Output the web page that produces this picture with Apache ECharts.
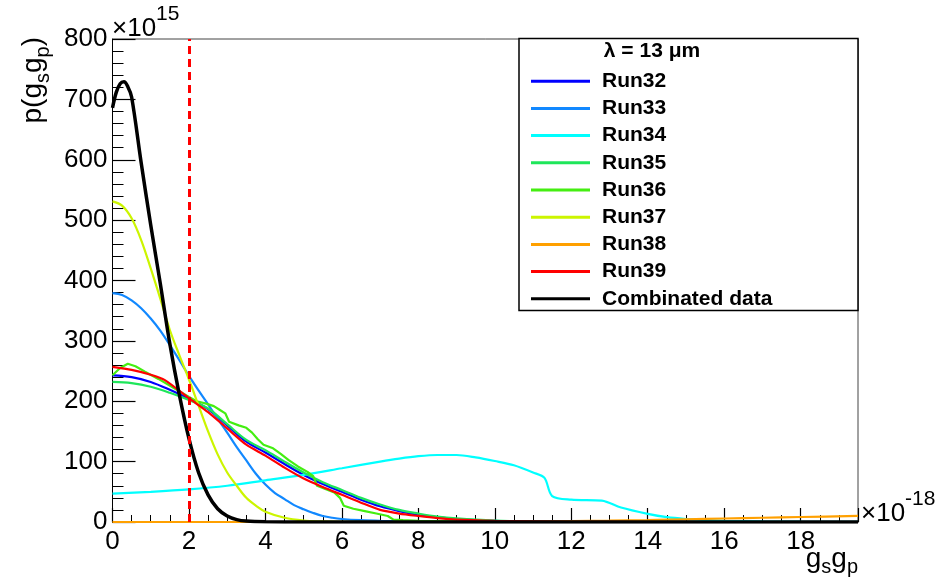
<!DOCTYPE html>
<html><head><meta charset="utf-8">
<script src="https://cdn.jsdelivr.net/npm/echarts@6/dist/echarts.min.js"></script>
<style>html,body{margin:0;padding:0;background:#fff}#c{width:941px;height:586px}</style>
</head><body><div id="c"></div>
<script>
// ---- data (x in units of 1e-18, y in units of 1e15) ----
const seriesNames = ['Run32','Run33','Run34','Run35','Run36','Run37','Run38','Run39','Combinated data'];
const xTickLabels = [0,2,4,6,8,10,12,14,16,18];
const yTickLabels = [0,100,200,300,400,500,600,700,800];
const cutX = 2;

const run32X = [0,0.5,1,1.5,2,2.5,3,3.5,4,4.5,5,5.5,6,6.5,7,7.5,8,8.5,9,10,11,12,14,19.5];
const run32Y = [243,240,232,219,204,187,160,133,115,96,78,63,50,37,26,18,12,8,5,2,1,0.4,0.1,0];

const run33X = [0,0.25,0.5,0.75,1,1.25,1.5,1.75,2,2.25,2.5,2.75,3,3.25,3.5,3.75,4,4.25,4.5,4.75,5,5.25,5.5,5.75,6,6.5,7,8,9,10,19.5];
const run33Y = [379,376,367,354,337,317,293,268,242,218,195,171,148,124,102,80,62,48,38,28,21,15,10,7,5,3,2,1,0.5,0,0];

const run34X = [0,1,2,3,4,5,6,7,7.5,8,8.5,9,9.5,10,10.5,11,11.3,11.5,12,12.8,13.3,14,14.5,15,15.5,16,17,18,19.5];
const run34Y = [47,50,54,60,69,78,89,100,105,109,111,111,107,101,94,82,73,43,37,35.5,24,13.5,8,5,3.2,2,1,0.5,0.3];

const run35X = [0,0.5,1,1.5,2,2.5,3,3.5,4,4.5,5,5.5,6,6.5,7,7.5,8,8.5,9,10,11,12,14,19.5];
const run35Y = [232,230,224,214,202,188,162,136,119,100,82,66,53,40,29,20,14,9,6,2.5,1,0.4,0.1,0];

const run36X = [0,0.2,0.4,0.6,0.85,1.2,1.55,2,2.2,2.45,2.65,2.8,2.95,3.05,3.3,3.5,3.65,3.8,3.95,4.2,4.4,4.6,4.85,5.1,5.25,5.35,5.6,5.8,5.95,6.05,6.3,6.6,6.9,7.2,7.35,7.6,8,9,10,12,19.5];
const run36Y = [243,255,262,258,249,237,224,207,200,196,192,186,180,166,160,156,148,137,128,122,113,103,92,83,76,60,54,49,40,27,22,18,14,10,4,3,2,1,0.5,0,0];

const run37X = [0,0.25,0.5,0.75,1,1.25,1.5,1.75,2,2.25,2.5,2.75,3,3.25,3.5,3.75,4,4.5,5,5.5,6,7,19.5];
const run37Y = [531,524,503,467,420,370,318,276,236,193,150,112,82,60,40,27,17,7,2.5,1,0.3,0,0];

const run38X = [0,2,4,6,8,9,10,11,12,13,14,15,16,17,18,19.5];
const run38Y = [0,0,0,0,0,0,0.3,0.8,1.5,2.3,3.3,4.5,5.8,7,8.3,10];

const run39X = [0,0.5,1,1.37,2,2.5,3,3.5,4,4.5,5,5.5,6,6.5,7,7.5,8,8.5,9,10,11,12,14,19.5];
const run39Y = [257,252,244,235,205,182,155,128,110,90,72,58,45,32,20,14,10,6.5,4,2,1,0.3,0,0];

const combX = [0,0.1,0.2,0.3,0.4,0.5,0.75,1,1.25,1.5,1.75,2,2.25,2.5,2.75,3,3.25,3.5,4,5,19.5];
const combY = [686,712,726,729,721,704,595,492,395,295,210,138,82,45,22,10,4,1.5,0.3,0,0];

// ---- chart ----
const FONT = '"Liberation Sans", Arial, Helvetica, sans-serif';
const allX = [run32X,run33X,run34X,run35X,run36X,run37X,run38X,run39X,combX];
const allY = [run32Y,run33Y,run34Y,run35Y,run36Y,run37Y,run38Y,run39Y,combY];
const colors = ['#0000ff','#1188ff','#00ffff','#1ee65a','#44ee11','#ccf500','#ffa000','#ff0000','#000000'];
const smoothFlags = [0.35,0.35,0.3,0.35,false,0.35,0.3,0.25,0.35];

const series = seriesNames.map((n,i) => {
  const s = {
    name: n, type: 'line', symbol: 'none', showSymbol: false,
    smooth: smoothFlags[i],
    data: allX[i].map((x,k) => [x, allY[i][k]]),
    lineStyle: { color: colors[i], width: i === 8 ? 3.5 : 2.2 },
    itemStyle: { color: colors[i] },
    z: 2 + i * 0.01
  };
  if (i === 0) {
    s.markLine = {
      silent: true, symbol: ['none','none'], label: { show: false },
      lineStyle: { color: '#ff0000', type: [8,5], width: 3 },
      data: [{ xAxis: cutX }]
    };
  }
  return s;
});

const chart = echarts.init(document.getElementById('c'), null, { renderer: 'canvas' });
chart.setOption({
  animation: false,
  backgroundColor: '#fff',
  grid: { left: 112.5, right: 83, top: 39, bottom: 64, show: true, borderColor: '#444', borderWidth: 1, backgroundColor: 'transparent' },
  xAxis: {
    type: 'value', min: 0, max: 19.5, interval: 2,
    axisLine: { show: true, onZero: false, lineStyle: { color: '#000', width: 1 } },
    axisTick: { show: true, inside: true, length: 14, lineStyle: { color: '#000', width: 1.2 } },
    minorTick: { show: true, splitNumber: 4, length: 7, lineStyle: { color: '#000', width: 1 } },
    splitLine: { show: false },
    axisLabel: { fontSize: 26, fontFamily: FONT, color: '#000', margin: 7, showMaxLabel: false,
      formatter: v => xTickLabels.includes(v) ? String(v) : '' }
  },
  yAxis: {
    type: 'value', min: 0, max: 800, interval: 100,
    axisLine: { show: true, onZero: false, lineStyle: { color: '#000', width: 1 } },
    axisTick: { show: true, inside: true, length: 23, lineStyle: { color: '#000', width: 1.2 } },
    minorTick: { show: true, splitNumber: 5, length: 11, lineStyle: { color: '#000', width: 1 } },
    splitLine: { show: false },
    axisLabel: { fontSize: 26, fontFamily: FONT, color: '#000', margin: 5,
      formatter: v => yTickLabels.includes(v) ? String(v) : '' }
  },
  legend: {
    show: true, orient: 'vertical', left: 531, top: 70.7, z: 60,
    itemWidth: 59, itemHeight: 3, itemGap: 6.2, icon: 'rect',
    padding: 0,
    data: seriesNames,
    textStyle: { fontSize: 21, fontWeight: 'bold', fontFamily: FONT, color: '#000', lineHeight: 20, padding: [0,0,0,7] }
  },
  graphic: [
    { type: 'rect', z: 50, shape: { x: 519, y: 38.5, width: 339, height: 272 },
      style: { fill: '#fff', stroke: '#000', lineWidth: 1.5 } },
    { type: 'text', z: 51, x: 652, y: 51,
      style: { text: 'λ = 13 μm', font: 'bold 21px ' + FONT, fill: '#000', align: 'center', verticalAlign: 'middle', textAlign: 'center', textVerticalAlign: 'middle' } },
    { type: 'text', z: 51, x: 112, y: 4,
      style: { text: '{b|×10}{p|15}', fill: '#000', align: 'left', verticalAlign: 'top', textAlign: 'left', textVerticalAlign: 'top',
        rich: { b: { fontSize: 26, fontFamily: FONT, lineHeight: 38, verticalAlign: 'bottom' },
                p: { fontSize: 21, fontFamily: FONT, lineHeight: 18, verticalAlign: 'top' } } } },
    { type: 'text', z: 51, x: 861, y: 489,
      style: { text: '{b|×10}{p|-18}', fill: '#000', align: 'left', verticalAlign: 'top', textAlign: 'left', textVerticalAlign: 'top',
        rich: { b: { fontSize: 26, fontFamily: FONT, lineHeight: 38, verticalAlign: 'bottom' },
                p: { fontSize: 21, fontFamily: FONT, lineHeight: 20, verticalAlign: 'top' } } } },
    { type: 'text', z: 51, x: 858, y: 545,
      style: { text: '{m|g}{s|s}{m|g}{s|p}', fill: '#000', align: 'right', verticalAlign: 'top', textAlign: 'right', textVerticalAlign: 'top',
        rich: { m: { fontSize: 28, fontFamily: FONT, lineHeight: 32, verticalAlign: 'top' },
                s: { fontSize: 20, fontFamily: FONT, lineHeight: 10, verticalAlign: 'bottom' } } } },
    { type: 'text', z: 51, x: 36, y: 37, rotation: Math.PI / 2,
      style: { text: '{m|p(g}{s|s}{m|g}{s|p}{m|)}', fill: '#000', align: 'right', verticalAlign: 'middle', textAlign: 'right', textVerticalAlign: 'middle',
        rich: { m: { fontSize: 28, fontFamily: FONT, lineHeight: 34, verticalAlign: 'top' },
                s: { fontSize: 20, fontFamily: FONT, lineHeight: 12, verticalAlign: 'bottom' } } } }
  ],
  series: series
});
</script></body></html>
